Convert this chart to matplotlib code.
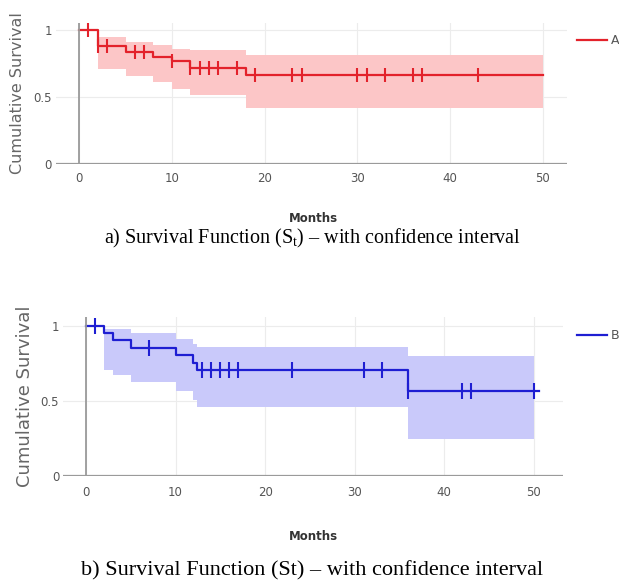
import numpy as np
import matplotlib
matplotlib.use('Agg')
import matplotlib.pyplot as plt
from matplotlib.lines import Line2D

plt.rcParams['font.family'] = 'DejaVu Sans'
plt.rcParams['mathtext.fontset'] = 'custom'
plt.rcParams['mathtext.rm'] = 'Liberation Serif'
plt.rcParams['mathtext.it'] = 'Liberation Serif:italic'

# Group A (red) - Kaplan-Meier steps, months
a_times = [0, 2, 5, 8, 10, 12, 18]
a_surv = [1.0, 0.883, 0.838, 0.797, 0.772, 0.72, 0.664]
a_end = 50
a_band_times = [2, 5, 8, 10, 12, 18]
a_upper = [0.95, 0.913, 0.888, 0.856, 0.851, 0.814]
a_lower = [0.713, 0.66, 0.613, 0.56, 0.516, 0.423]
a_band_end = 50
a_censored = [1, 2, 3, 6, 7, 10, 12, 13, 14, 15, 17, 19, 23, 24, 30, 31, 33, 36, 37, 43]

# Group B (blue)
b_times = [0, 2, 3, 5, 10, 12, 12.4, 36]
b_surv = [1.0, 0.951, 0.903, 0.849, 0.807, 0.753, 0.703, 0.567]
b_end = 50.6
b_band_times = [2, 3, 5, 10, 12, 12.4, 36]
b_upper = [0.976, 0.976, 0.95, 0.91, 0.88, 0.855, 0.795]
b_lower = [0.705, 0.67, 0.625, 0.565, 0.505, 0.458, 0.245]
b_band_end = 50
b_censored = [1, 7, 13, 14, 15, 16, 17, 23, 31, 33, 36, 42, 43, 50]

x_ticks = [0, 10, 20, 30, 40, 50]
y_ticks = [0, 0.5, 1]
y_ticklabels = ['0', '0.5', '1']

W, H = 619, 587
fig = plt.figure(figsize=(W / 100, H / 100), dpi=100)


def km_panel(rect, xlim, times, surv, end, bt, up, lo, bend, cens,
             line_c, band_c, name, tick_ms, xpad, fs, leg_dx):
    ax = fig.add_axes(rect)
    t = list(times) + [end]
    s = list(surv) + [surv[-1]]
    tb = list(bt) + [bend]
    ub = list(up) + [up[-1]]
    lb = list(lo) + [lo[-1]]
    ax.fill_between(tb, lb, ub, step='post', color=band_c, lw=0, zorder=2)
    ax.step(t, s, where='post', color=line_c, lw=1.6, zorder=3)
    idx = np.searchsorted(times, cens, side='right') - 1
    cy = np.array(surv)[idx]
    ax.plot(cens, cy, ls='none', marker='|', ms=tick_ms, mew=1.5,
            color=line_c, zorder=4)
    ax.set_xlim(*xlim)
    ax.set_ylim(0, 1.055)
    ax.set_xticks(x_ticks)
    ax.set_yticks(y_ticks)
    ax.set_yticklabels(y_ticklabels)
    ax.grid(color='#ececec', lw=0.8, zorder=0)
    for sp in ax.spines.values():
        sp.set_visible(False)
    ax.axhline(0, color='#9a9a9a', lw=1.6, zorder=5)
    ax.axvline(0, color='#9a9a9a', lw=1.3, zorder=5)
    ax.tick_params(length=0, labelsize=fs, labelcolor='#555555')
    ax.tick_params(axis='x', pad=xpad)
    ax.tick_params(axis='y', pad=3)
    h = Line2D([], [], color=line_c, lw=1.6)
    ax.legend([h], [name], loc='center left',
              bbox_to_anchor=(rect[0] + rect[2] + leg_dx, rect[1] + rect[3] - 0.031),
              bbox_transform=fig.transFigure, frameon=False, fontsize=9,
              handlelength=2.4, handletextpad=0.3, borderpad=0,
              borderaxespad=0, labelcolor='#555555')
    return ax


# top panel (A)
km_panel([56 / W, 1 - 164.3 / H, 511 / W, 141.6 / H], (-2.5, 52.6),
         a_times, a_surv, a_end, a_band_times, a_upper, a_lower, a_band_end,
         a_censored, '#e3222b', '#fcc6c7', 'A', 10, 5.3, 8.5, 0.016)
fig.text(18 / W, 1 - 93.5 / H, 'Cumulative Survival', rotation=90,
         ha='center', va='center', fontsize=11.5, color='#666666')
fig.text(313 / W, 1 - 218 / H, 'Months', ha='center', va='center',
         fontsize=8.5, fontweight='bold', color='#333333')
fig.text(312 / W, 1 - 238 / H,
         'a) Survival Function (S$_{\\mathrm{t}}$) \u2013 with confidence interval',
         ha='center', va='center', fontsize=14.5, family='Liberation Serif')

# bottom panel (B)
km_panel([63.3 / W, 1 - 475.7 / H, 500 / W, 158.4 / H], (-2.54, 53.3),
         b_times, b_surv, b_end, b_band_times, b_upper, b_lower, b_band_end,
         b_censored, '#1e1ed2', '#c9c9fa', 'B', 12, 7.2, 8.5, 0.022)
fig.text(25 / W, 1 - 396.5 / H, 'Cumulative Survival', rotation=90,
         ha='center', va='center', fontsize=13, color='#666666')
fig.text(313 / W, 1 - 537 / H, 'Months', ha='center', va='center',
         fontsize=8.5, fontweight='bold', color='#333333')
fig.text(312 / W, 1 - 571 / H,
         'b) Survival Function (St) \u2013 with confidence interval',
         ha='center', va='center', fontsize=16, family='Liberation Serif')

fig.savefig('out.png', dpi=100)
